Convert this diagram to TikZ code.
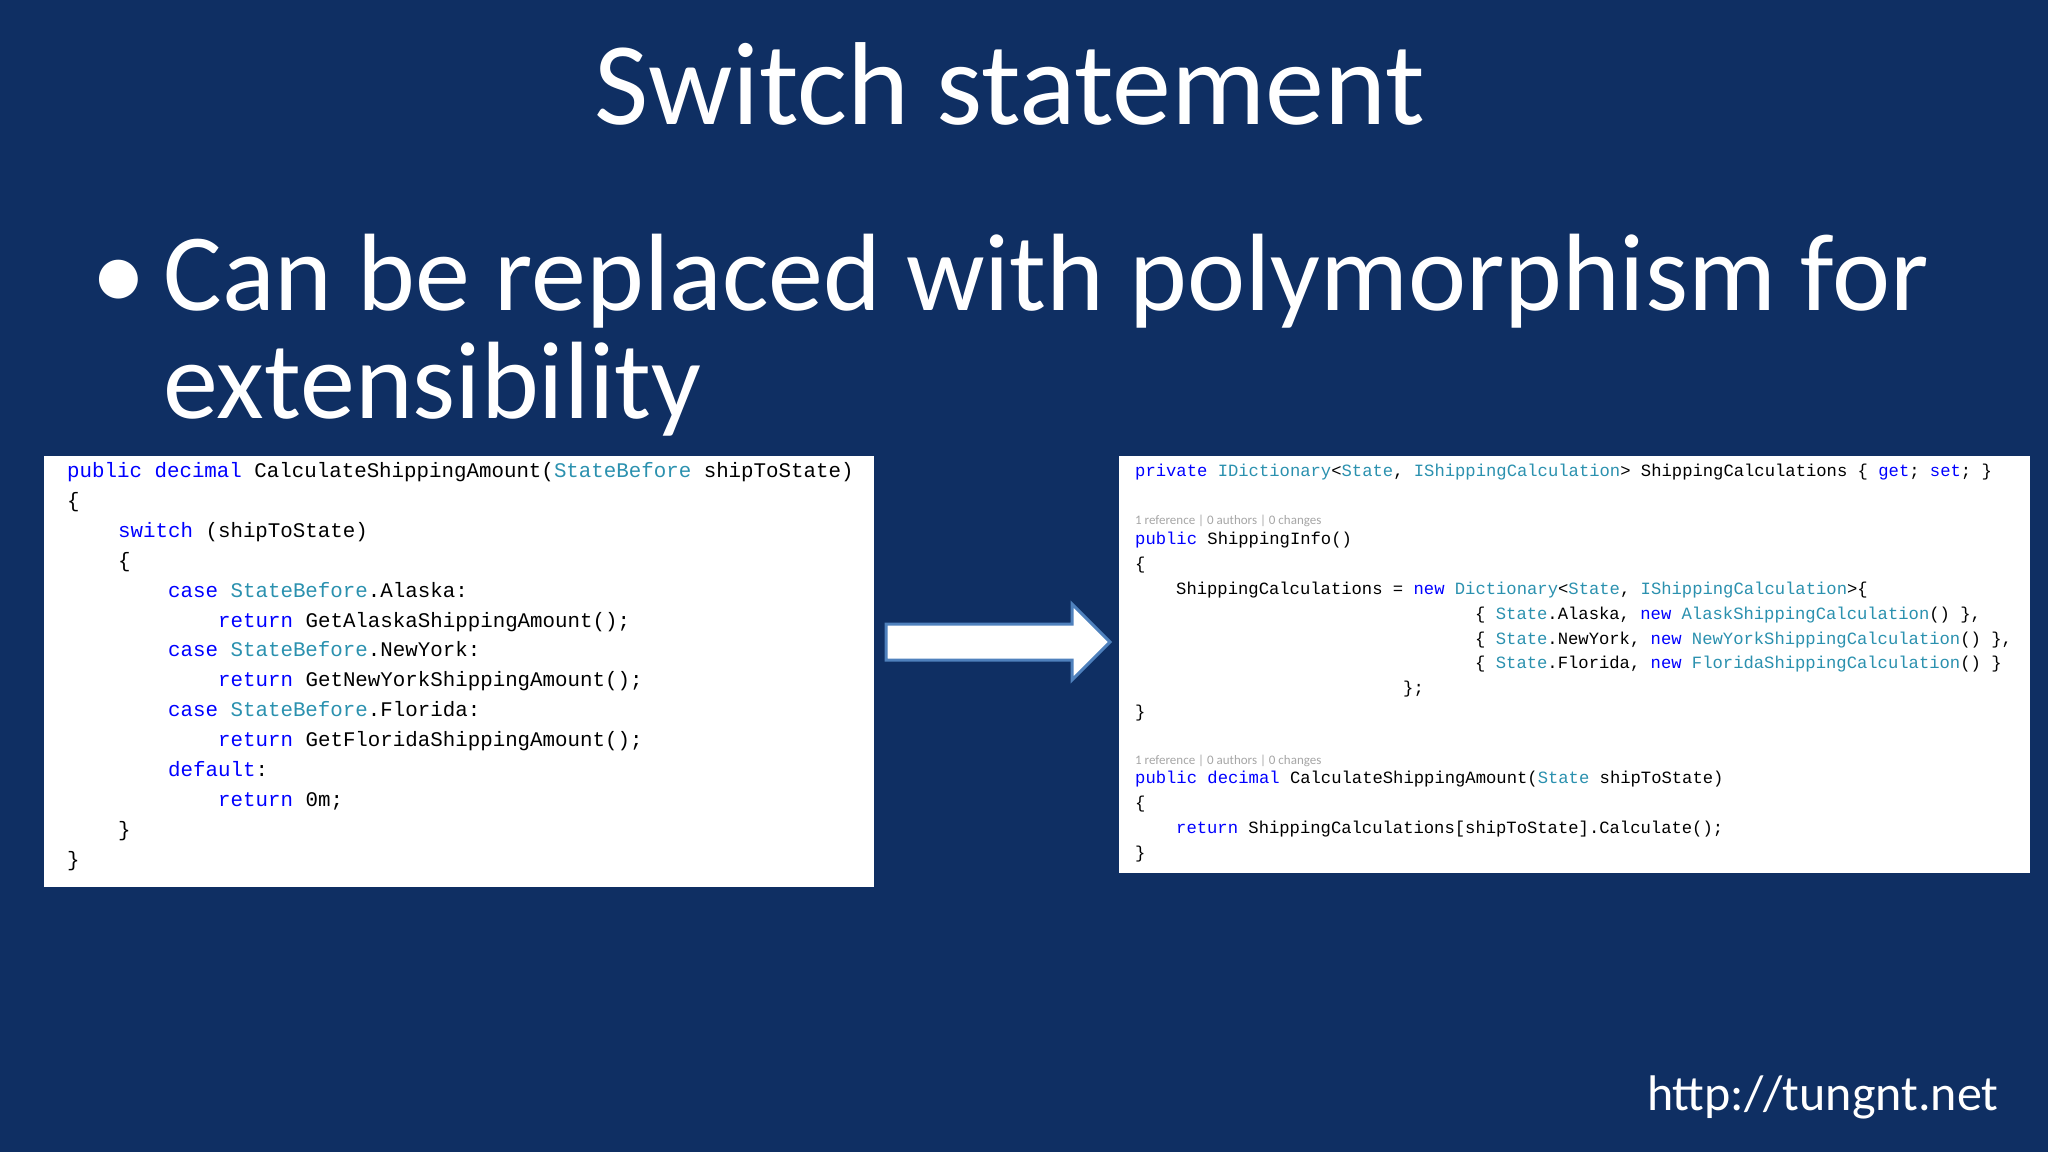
\documentclass[tikz,border=0pt]{standalone}
\usepackage{fontspec}
\setmainfont{Carlito}
\newfontfamily\codefont{Liberation Mono}
\usepackage{tikz}

\definecolor{slidebg}{HTML}{0F2F63}
\definecolor{kw}{HTML}{0000FF}
\definecolor{ty}{HTML}{2B91AF}
\definecolor{arrowline}{HTML}{4F81BD}

\newcommand{\kw}[1]{\textcolor{kw}{#1}}
\newcommand{\ty}[1]{\textcolor{ty}{#1}}

\tikzset{
  panel/.style={fill=white, draw=none},
  leftcode/.style={anchor=base west, inner sep=0pt, font=\fontsize{20.8}{25}\selectfont\codefont},
  rightcode/.style={anchor=base west, inner sep=0pt, font=\fontsize{17.2}{21}\selectfont\codefont},
  lens/.style={anchor=base west, inner sep=0pt, text=gray!70, font=\fontsize{13}{15}\selectfont},
}

\begin{document}
\begin{tikzpicture}[x=1pt, y=-1pt]
    \fill[slidebg] (0,0) rectangle (2048,1152);
    \useasboundingbox (0,0) rectangle (2048,1152);

    \node[anchor=base, text=white, font=\fontsize{118}{130}\selectfont] (title) at (1010,124) {Switch statement};
    \node[anchor=base west, text=white, font=\fontsize{110}{120}\selectfont] (bullet) at (88,310) {\textbullet};
    \node[anchor=base west, text=white, font=\fontsize{110}{120}\selectfont] (line1) at (160,310) {Can be replaced with polymorphism for};
    \node[anchor=base west, text=white, font=\fontsize{110}{120}\selectfont] (line2) at (160,418) {extensibility};

    % before: switch
    \fill[panel] (44,456) rectangle (874,887);
    \node[leftcode] (l1) at (67,477) {\kw{public decimal} CalculateShippingAmount(\ty{StateBefore} shipToState)};
    \node[leftcode] (l2) at (67,507) {\{};
    \node[leftcode] (l3) at (118,537) {\kw{switch} (shipToState)};
    \node[leftcode] (l4) at (118,567) {\{};
    \node[leftcode] (l5) at (168,597) {\kw{case} \ty{StateBefore}.Alaska:};
    \node[leftcode] (l6) at (218,627) {\kw{return} GetAlaskaShippingAmount();};
    \node[leftcode] (l7) at (168,656) {\kw{case} \ty{StateBefore}.NewYork:};
    \node[leftcode] (l8) at (218,686) {\kw{return} GetNewYorkShippingAmount();};
    \node[leftcode] (l9) at (168,716) {\kw{case} \ty{StateBefore}.Florida:};
    \node[leftcode] (l10) at (218,746) {\kw{return} GetFloridaShippingAmount();};
    \node[leftcode] (l11) at (168,776) {\kw{default}:};
    \node[leftcode] (l12) at (218,806) {\kw{return} 0m;};
    \node[leftcode] (l13) at (118,836) {\}};
    \node[leftcode] (l14) at (67,866) {\}};

    % arrow
    \draw[arrowline, line width=3pt, fill=white, line join=miter]
        (886,624) -- (1072,624) -- (1072,604) -- (1110,642) -- (1072,680) -- (1072,660) -- (886,660) -- cycle;

    % after: dictionary
    \fill[panel] (1119,456) rectangle (2030,873);
    \node[rightcode] (r1) at (1135,476) {\kw{private} \ty{IDictionary}<\ty{State}, \ty{IShippingCalculation}> ShippingCalculations \{ \kw{get}; \kw{set}; \}};
    \node[lens] (g1) at (1135,524) {1 reference | 0 authors | 0 changes};
    \node[rightcode] (r2) at (1135,544) {\kw{public} ShippingInfo()};
    \node[rightcode] (r3) at (1135,569) {\{};
    \node[rightcode] (r4) at (1176,594) {ShippingCalculations = \kw{new} \ty{Dictionary}<\ty{State}, \ty{IShippingCalculation}>\{};
    \node[rightcode] (r5) at (1475,619) {\{ \ty{State}.Alaska, \kw{new} \ty{AlaskShippingCalculation}() \},};
    \node[rightcode] (r6) at (1475,644) {\{ \ty{State}.NewYork, \kw{new} \ty{NewYorkShippingCalculation}() \},};
    \node[rightcode] (r7) at (1475,668) {\{ \ty{State}.Florida, \kw{new} \ty{FloridaShippingCalculation}() \}};
    \node[rightcode] (r8) at (1403,693) {\};};
    \node[rightcode] (r9) at (1135,717) {\}};
    \node[lens] (g2) at (1135,764) {1 reference | 0 authors | 0 changes};
    \node[rightcode] (r10) at (1135,783) {\kw{public decimal} CalculateShippingAmount(\ty{State} shipToState)};
    \node[rightcode] (r11) at (1135,808) {\{};
    \node[rightcode] (r12) at (1176,833) {\kw{return} ShippingCalculations[shipToState].Calculate();};
    \node[rightcode] (r13) at (1135,858) {\}};

    \node[anchor=base east, text=white, font=\fontsize{50}{60}\selectfont] (url) at (2002,1110) {http://tungnt.net};
\end{tikzpicture}
\end{document}
